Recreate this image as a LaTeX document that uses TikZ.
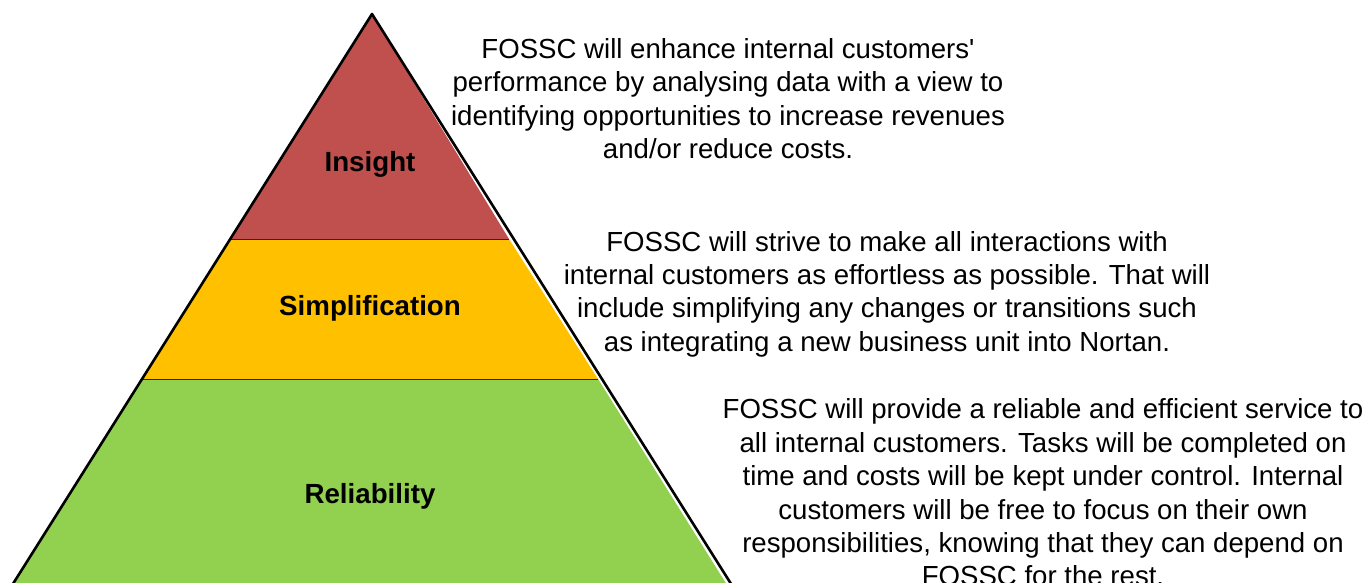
\documentclass[tikz,border=0pt]{standalone}
\usepackage{fontspec}
\setmainfont{Liberation Sans}
\definecolor{insightred}{RGB}{192,80,77}
\definecolor{simpyellow}{RGB}{255,192,0}
\definecolor{relgreen}{RGB}{146,208,80}
\begin{document}
\begin{tikzpicture}[x=1pt,y=-1pt,
  desc/.style={align=center,font=\fontsize{27.6}{33.4}\selectfont,inner sep=0pt},
  tier/.style={font=\bfseries\fontsize{27.7}{32}\selectfont,inner sep=0pt},
  sep/.style={draw=black!85,line width=1pt},
  outline/.style={draw=black,line width=2.6pt,line join=round}]
\useasboundingbox (0,0) rectangle (1370,583);
\clip (0,0) rectangle (1370,583);
% bands
\fill[insightred] (372,14) -- (230.25,239) -- (509,239) -- cycle;
\fill[simpyellow] (230.25,239) -- (142,379) -- (598,379) -- (509,239) -- cycle;
\fill[relgreen] (142,379) -- (-9.8,620) -- (749,620) -- (598,379) -- cycle;
\draw[sep] (230.25,239) -- (509,239);
\draw[sep] (142,379) -- (598,379);
% outline
\draw[outline] (-9.8,620) -- (372,14) -- (753.8,620);
% tier labels
\node[tier] (insight) at (370,164) {Insight};
\node[tier] (simp) at (370,308) {Simplification};
\node[tier] (rel) at (370,496) {Reliability};
% descriptions
\node[desc] (d1) at (728,98.5) {FOSSC will enhance internal customers\textquotesingle\\performance by analysing data with a view to\\identifying opportunities to increase revenues\\and/or reduce costs.};
\node[desc] (d2) at (887,294) {FOSSC will strive to make all interactions with\\internal customers as effortless as possible. That will\\include simplifying any changes or transitions such\\as integrating a new business unit into Nortan.};
\node[desc] (d3) at (1043,492.5) {FOSSC will provide a reliable and efficient service to\\all internal customers. Tasks will be completed on\\time and costs will be kept under control. Internal\\customers will be free to focus on their own\\responsibilities, knowing that they can depend on\\FOSSC for the rest.};
\end{tikzpicture}
\end{document}
